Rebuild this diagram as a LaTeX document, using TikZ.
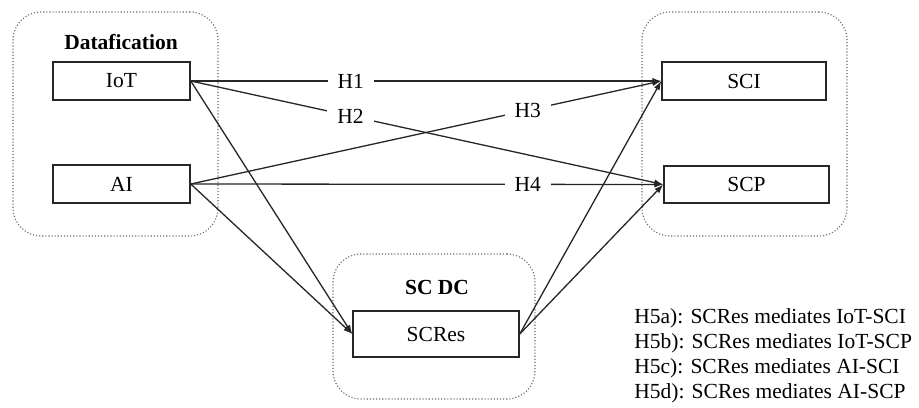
\documentclass[tikz,border=0pt]{standalone}
\usepackage{fontspec}
\setmainfont{Liberation Serif}
\usetikzlibrary{arrows.meta}
\begin{document}
\begin{tikzpicture}[x=0.5pt,y=-0.5pt,
  every node/.style={font=\fontsize{10.75}{13}\selectfont},
  group/.style={draw=black!60, densely dotted, line width=0.55pt, rounded corners=14pt, inner sep=0pt},
  varbox/.style={draw=black!85, line width=0.75pt, inner sep=0pt},
  link/.style={draw=black!85, line width=0.65pt, -{Latex[length=4.5pt,width=3.2pt]}},
  hyp/.style={fill=white, inner xsep=5pt, inner ysep=1.5pt},
  grouptitle/.style={font=\fontsize{10.75}{13}\selectfont\bfseries},
  legend/.style={anchor=west, inner sep=0pt}
]
\useasboundingbox (0,0) rectangle (919,407);

% containers
\node[group, minimum width=102.5pt, minimum height=112pt] (gdata) at (115.5,124) {};
\node[group, minimum width=102.5pt, minimum height=112pt] (gout) at (744.5,124) {};
\node[group, minimum width=101pt, minimum height=72.5pt] (gdc) at (434,326.5) {};

\node[grouptitle] (tdata) at (121,42) {Datafication};
\node[grouptitle] (tdc) at (437,287) {SC DC};

% variables
\node[varbox, minimum width=68.5pt, minimum height=19pt] (iot) at (121.5,81) {IoT};
\node[varbox, minimum width=68.5pt, minimum height=19pt] (ai) at (121.5,184) {AI};
\node[varbox, minimum width=82pt, minimum height=19pt] (sci) at (744,81) {SCI};
\node[varbox, minimum width=82.5pt, minimum height=18.5pt] (scp) at (746.5,184.5) {SCP};
\node[varbox, minimum width=83pt, minimum height=23pt] (scres) at (436,334) {SCRes};

% mediation links
\draw[link] (iot.east) -- (scres.west);
\draw[link] (ai.east) -- (scres.west);
\draw[link] (scres.east) -- (sci.west);
\draw[link] (scres.east) -- (scp.west);

% direct hypotheses
\draw[link] (iot.east) -- node[hyp, pos=0.34] (h1) {H1} (sci.west);
\draw[link] (iot.east) -- node[hyp, pos=0.338] (h2) {H2} (scp.west);
\draw[link] (ai.east) -- node[hyp, pos=0.716] (h3) {H3} (sci.west);
\draw[link] (ai.east) -- node[hyp, pos=0.713] (h4) {H4} (scp.west);

% legend
\node[legend] (l1) at (634,318) {H5a): SCRes mediates IoT-SCI};
\node[legend] (l2) at (634,343) {H5b): SCRes mediates IoT-SCP};
\node[legend] (l3) at (634,368) {H5c): SCRes mediates AI-SCI};
\node[legend] (l4) at (634,393) {H5d): SCRes mediates AI-SCP};
\end{tikzpicture}
\end{document}
